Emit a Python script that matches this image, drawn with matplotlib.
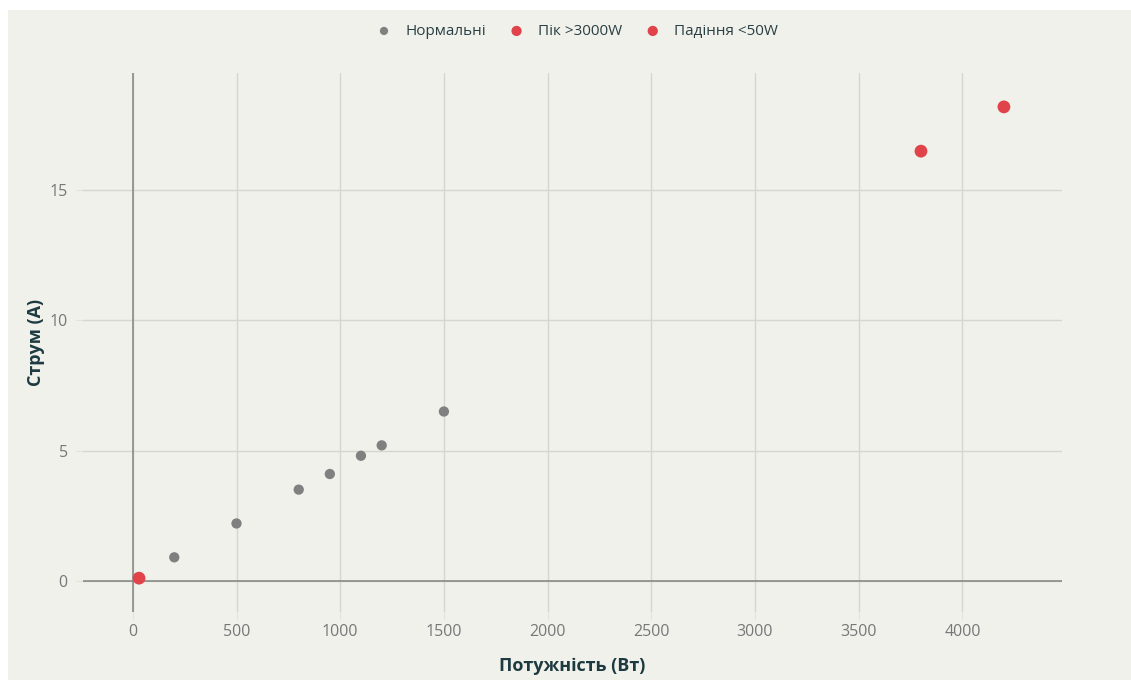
import matplotlib
matplotlib.use("Agg")
import matplotlib.pyplot as plt
from matplotlib.patches import Rectangle

plt.rcParams['font.family'] = ['Open Sans', 'DejaVu Sans']

# normal readings
normal_power = [200, 500, 800, 950, 1100, 1200, 1500]
normal_current = [0.9, 2.2, 3.5, 4.1, 4.8, 5.2, 6.5]
# peaks > 3000W
peak_power = [3800, 4200]
peak_current = [16.5, 18.2]
# drops < 50W
drop_power = [30]
drop_current = [0.1]

labels = ["Нормальні", "Пік >3000W", "Падіння <50W"]
x_ticks = [0, 500, 1000, 1500, 2000, 2500, 3000, 3500, 4000]
y_ticks = [0, 5, 10, 15]

BG = "#f1f1ec"
GRAY = "#808080"
RED = "#e0444a"
DARK = "#1d3a40"


def main():
    fig = plt.figure(figsize=(11.31, 6.8), dpi=100, facecolor="white")
    fig.patches.append(Rectangle((8 / 1131, 0), 1, 1 - 10 / 680,
                                 transform=fig.transFigure,
                                 facecolor=BG, edgecolor="none", zorder=-10))
    ax = fig.add_axes([0.0734, 0.1, 0.8656, 0.7926])
    ax.set_facecolor(BG)

    ax.scatter(normal_power, normal_current, s=55, color=GRAY,
               edgecolors="none", label=labels[0], zorder=3)
    ax.scatter(peak_power, peak_current, s=85, color=RED,
               edgecolors="none", label=labels[1], zorder=3)
    ax.scatter(drop_power, drop_current, s=85, color=RED,
               edgecolors="none", label=labels[2], zorder=3)

    ax.set_xlim(-240, 4480)
    ax.set_ylim(-1.2, 19.5)
    ax.set_xticks(x_ticks)
    ax.set_yticks(y_ticks)
    ax.grid(True, color="#d6d6d1", linewidth=1)
    ax.set_axisbelow(True)
    ax.axhline(0, color="#8a8a86", linewidth=1.2, zorder=2)
    ax.axvline(0, color="#8a8a86", linewidth=1.2, zorder=2)

    for s in ax.spines.values():
        s.set_visible(False)
    ax.tick_params(axis="both", length=5, color="#e2e2dd", labelsize=11.5,
                   labelcolor="#777777")
    ax.tick_params(axis="x", pad=4)
    ax.tick_params(axis="y", pad=6)

    ax.set_xlabel("Потужність (Вт)", fontsize=13, fontweight="bold",
                  color=DARK, labelpad=12)
    ax.set_ylabel("Струм (А)", fontsize=13, fontweight="bold",
                  color=DARK, labelpad=3)

    fig.legend(loc="upper center", bbox_to_anchor=(0.507, 0.985), ncol=3,
               frameon=False, fontsize=11, handletextpad=0.4,
               columnspacing=1.0, markerscale=0.8,
               labelcolor="#2a3f44")

    fig.savefig("out.png", dpi=100, facecolor="white")


if __name__ == "__main__":
    main()
